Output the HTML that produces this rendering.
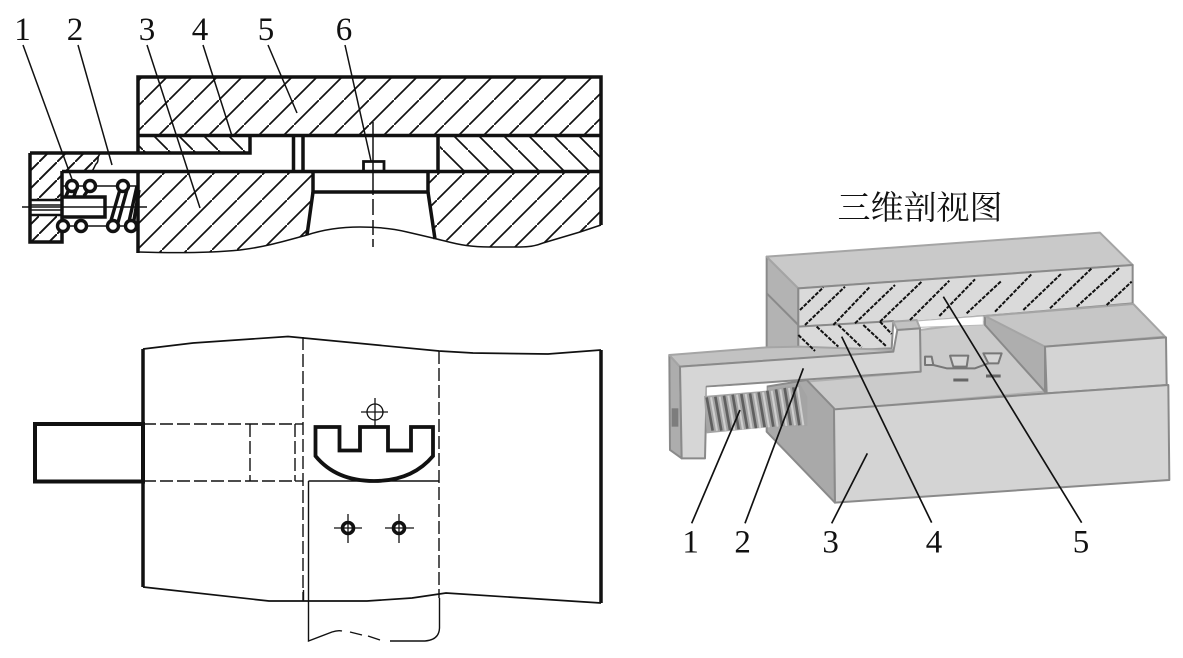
<!DOCTYPE html>
<html><head><meta charset="utf-8">
<style>
html,body{margin:0;padding:0;background:#fff;width:1183px;height:658px;overflow:hidden}
svg{display:block}
text{font-family:"Liberation Serif","Noto Serif CJK SC",serif;fill:#111}
</style></head><body>
<svg width="1183" height="658" viewBox="0 0 1183 658" xmlns="http://www.w3.org/2000/svg">
<defs>
<pattern id="h5" width="25" height="25" patternUnits="userSpaceOnUse" x="19" y="0"><path d="M-2 27L27 -2" stroke="#111" stroke-width="1.700"/></pattern>
<pattern id="h3" width="25" height="25" patternUnits="userSpaceOnUse" x="12" y="0"><path d="M-2 27L27 -2" stroke="#111" stroke-width="1.700"/></pattern>
<pattern id="h4" width="25" height="25" patternUnits="userSpaceOnUse" x="18" y="0"><path d="M-2 -2L27 27" stroke="#111" stroke-width="1.700"/></pattern>
<pattern id="hl" width="18" height="18" patternUnits="userSpaceOnUse" x="3" y="0"><path d="M-2 20L20 -2" stroke="#111" stroke-width="1.900"/></pattern>
</defs>

<!-- section view: hatching -->
<rect x="138" y="77" width="463" height="58" fill="url(#h5)"/>
<rect x="138" y="136" width="112" height="17" fill="url(#h4)"/>
<rect x="440" y="136" width="161" height="35" fill="url(#h4)"/>
<path d="M138 172H313L307 235C285 241 265 247 240 250C210 253 170 252 138 252Z" fill="url(#h3)"/>
<path d="M428 172H601V225L580 232L543 243Q530 247 520 247H490Q478 248 468 245L435 238Z" fill="url(#h3)"/>
<path d="M30 153H100L93 171H62V200H30Z" fill="url(#hl)"/>
<rect x="30" y="215" width="32" height="27" fill="url(#hl)"/>

<!-- section view: outlines -->
<g fill="none" stroke="#111" stroke-width="3.500">
<path d="M138 153V77H601V225"/>
<path d="M138 135.500H601"/>
<path d="M30 153H138M138 153H250V136"/>
<path d="M62 171.500H601"/>
<path d="M30 153V242H62V171"/>
<path d="M138 171V253"/>
<path d="M293.500 136V171M303 136V171M438 136V171"/>
<path d="M313 172V192H428V172"/>
<path d="M313 192L307 235M428 192L435 239"/>
<path d="M363.500 171V161.500H384V171" stroke-width="2.800"/>
<path d="M62 197H105V217H62"/>
<path d="M30 200H62M30 215H62" stroke-width="2.500"/>
</g>
<g fill="none" stroke="#111" stroke-width="1.500">
<path d="M138 252C170 253 210 253 240 250C265 247 285 241 307 235C325 229 345 227 360 227C380 227 395 229 407 232C420 235 433 238 445 241C460 245 472 247 490 247H520C532 247 538 245 543 243L580 232L601 225"/>
<path d="M100 154C96 158 100 161 96 164C94 167 94 169 92 171"/>
<path d="M22 207H147"/>
<path d="M30 205H62M30 210H62"/>
<path d="M62 186H138M62 226H138"/>
<path d="M373 122V195M373 199V215M373 220V235M373 239V247"/>
</g>
<!-- spring -->
<g fill="#fff" stroke="#111" stroke-width="3.400">
<path d="M66 196L70 187M74 196L76 190M84 196L88 190" fill="none"/>
<path d="M110 224L121 186M117 226L128 186M128 226L137 186M133 226L139 190" fill="none"/>
<circle cx="72" cy="186" r="5.500"/><circle cx="90" cy="186" r="5.500"/><circle cx="123" cy="186" r="5.500"/>
<circle cx="63" cy="226" r="5.500"/><circle cx="81" cy="226" r="5.500"/><circle cx="113" cy="226" r="5.500"/><circle cx="131" cy="226" r="5.500"/>
</g>

<!-- section labels -->
<g font-size="33" text-anchor="middle">
<text x="22.500" y="40">1</text><text x="75" y="40">2</text><text x="147" y="40">3</text><text x="200" y="40">4</text><text x="266" y="40">5</text><text x="344" y="40">6</text>
</g>
<g stroke="#111" stroke-width="1.500" fill="none">
<path d="M23 45L73 182M78 45L112 165M147 45L200 208M203 45L232 136M268 45L297 113M345 45L371 161"/>
</g>

<!-- plan view -->
<g fill="none" stroke="#111">
<path d="M143 349V587" stroke-width="3.500"/>
<path d="M601 350V603" stroke-width="3.500"/>
<path d="M143 349L193 343L288 336.500L439 351L473 353L548 354L601 350" stroke-width="1.700"/>
<path d="M143 587L269 601H367L412 598L446 593L601 603" stroke-width="1.700"/>
<rect x="35" y="424" width="108" height="57.500" stroke-width="4"/>
<g stroke-width="1.400" stroke-dasharray="13 4">
<path d="M143 424H295"/><path d="M143 481H295"/>
<path d="M250 424V481"/><path d="M295 424V481"/>
<path d="M295 424H303"/><path d="M295 481H303"/>
<path d="M303 337V601"/>
<path d="M439 351V598"/>
</g>
<path d="M303.500 590V601" stroke-width="1.400"/>
<path d="M308.500 481H439" stroke-width="1.600"/>
<path d="M308.500 481V641L332 632Q338 630 342 631" stroke-width="1.400"/>
<path d="M350 632L362 635M368 636L380 640" stroke-width="1.400"/>
<path d="M390 641H425Q439 640 439.500 628V598" stroke-width="1.400"/>
<path d="M315.500 456V427H339.500V450.500H360V427H388V450.500H411V427H433V456Q412 481 374 481Q336 481 315.500 456Z" stroke-width="3.800"/>
<circle cx="375" cy="412" r="8" stroke-width="1.300"/>
<path d="M361 412H388M375 398V427" stroke-width="1.300"/>
<circle cx="348" cy="528" r="5.500" stroke-width="3.600"/>
<circle cx="399" cy="528" r="5.500" stroke-width="3.600"/>
<path d="M334 528H362M348 514V543M385 528H414M399 514V543" stroke-width="1.300"/>
</g>

<!-- title -->
<text x="920" y="219" font-size="33" text-anchor="middle">三维剖视图</text>

<!-- 3D view (coordinates in 3x space) -->
<g transform="translate(660 190) scale(.33333)" stroke="#8a8a8a" stroke-width="6" stroke-linejoin="round">
<polygon points="320,200 415,295 415,490 320,475" fill="#b3b3b3"/>
<path d="M320 310L415 405" fill="none"/>
<polygon points="320,200 1320,128 1418,225 415,295" fill="#c9c9c9" stroke="#a5a5a5"/>
<polygon points="780,420 975,395 1155,605 520,660 440,575 782,545" fill="#cbcbcb" stroke="#b0b0b0"/>
<polygon points="415,295 1418,225 1418,340 975,378 770,395 700,395 415,410" fill="#dadada"/>
<polygon points="415,410 700,393 695,475 415,487" fill="#dadada"/>
<polygon points="770,393 970,378 970,405 775,412" fill="#fff" stroke="#bbb" stroke-width="3"/>
<polygon points="975,380 1090,370 1155,470 1155,605 975,405" fill="#aeaeae"/>
<polygon points="975,378 1420,342 1515,440 1155,470" fill="#c6c6c6" stroke="#a5a5a5"/>
<polygon points="1155,470 1518,442 1520,585 1160,610" fill="#d4d4d4"/>
<polygon points="440,570 522,655 525,938 320,725 320,590" fill="#a9a9a9"/>
<polygon points="522,658 1160,610 1525,585 1528,870 525,938" fill="#d4d4d4"/>
<polygon points="28,495 60,530 65,805 30,780" fill="#adadad"/>
<polygon points="28,495 320,472 420,470 700,480 700,490 420,505 60,530" fill="#c2c2c2" stroke="#a5a5a5"/>
<polygon points="700,395 770,390 780,415 712,420" fill="#c2c2c2" stroke="#a5a5a5"/>
<polygon points="60,530 415,505 700,485 712,420 780,415 782,545 420,570 140,590 135,805 65,805" fill="#d6d6d6"/>
<polygon points="140,592 320,582 320,612 140,620" fill="#fff" stroke="none"/>
<rect x="35" y="655" width="20" height="55" fill="#7d7d7d" stroke="none"/>
<!-- spring coils -->
<polygon points="132,618 320,602 420,582 442,620 442,708 320,712 140,730" fill="#a4a4a4" stroke="none"/>
<g fill="none" stroke="#5f5f5f" stroke-width="8">
<path d="M140 622L158 722M166 620L184 722M192 617L210 720M218 614L236 718M244 612L262 716M270 610L288 715M296 607L314 712M322 602L340 710M348 598L366 708M374 594L392 706M400 592L418 706"/>
</g>
<g fill="none" stroke="#cfcfcf" stroke-width="6">
<path d="M153 622L171 722M179 620L197 722M205 617L223 720M231 614L249 718M257 612L275 716M283 610L301 715M309 607L327 712M335 602L353 710M361 598L379 708M387 594L405 706M413 592L430 706"/>
</g>
<!-- small parts -->
<g fill="#d6d6d6" stroke="#777" stroke-width="6">
<path d="M795 500H815L820 525H795Z"/>
<path d="M870 497H925L920 530H880Z"/>
<path d="M970 490H1025L1015 520H985Z"/>
<path d="M820 525L860 535H945L985 520" fill="none"/>
</g>
<path d="M880 570H925M978 558H1022" stroke="#666" stroke-width="9" fill="none"/>
<!-- 3D hatching -->
<g stroke="#111" stroke-width="6" stroke-dasharray="12 4" fill="none">
<path d="M420 360L490 292M435 405L555 290M520 405L630 290M585 400L705 285M660 395L785 275M750 390L868 272M838 378L945 268M920 370L1025 272M1005 365L1115 252M1090 360L1205 250M1170 355L1295 235M1250 350L1380 232M1340 345L1415 275"/>
<path d="M415 435L465 483M470 410L535 470M535 405L605 472M610 405L680 470M660 395L695 432"/>
</g>
<!-- leaders -->
<g stroke="#111" stroke-width="5" fill="none">
<path d="M95 1000L240 660M255 1000L430 535M515 1000L622 790M815 998L545 440M1265 998L850 320"/>
</g>
<g font-size="99" text-anchor="middle" stroke="none">
<text x="92" y="1088">1</text><text x="248" y="1088">2</text><text x="512" y="1088">3</text><text x="822" y="1088">4</text><text x="1263" y="1088">5</text>
</g>
</g>
</svg>
</body></html>
